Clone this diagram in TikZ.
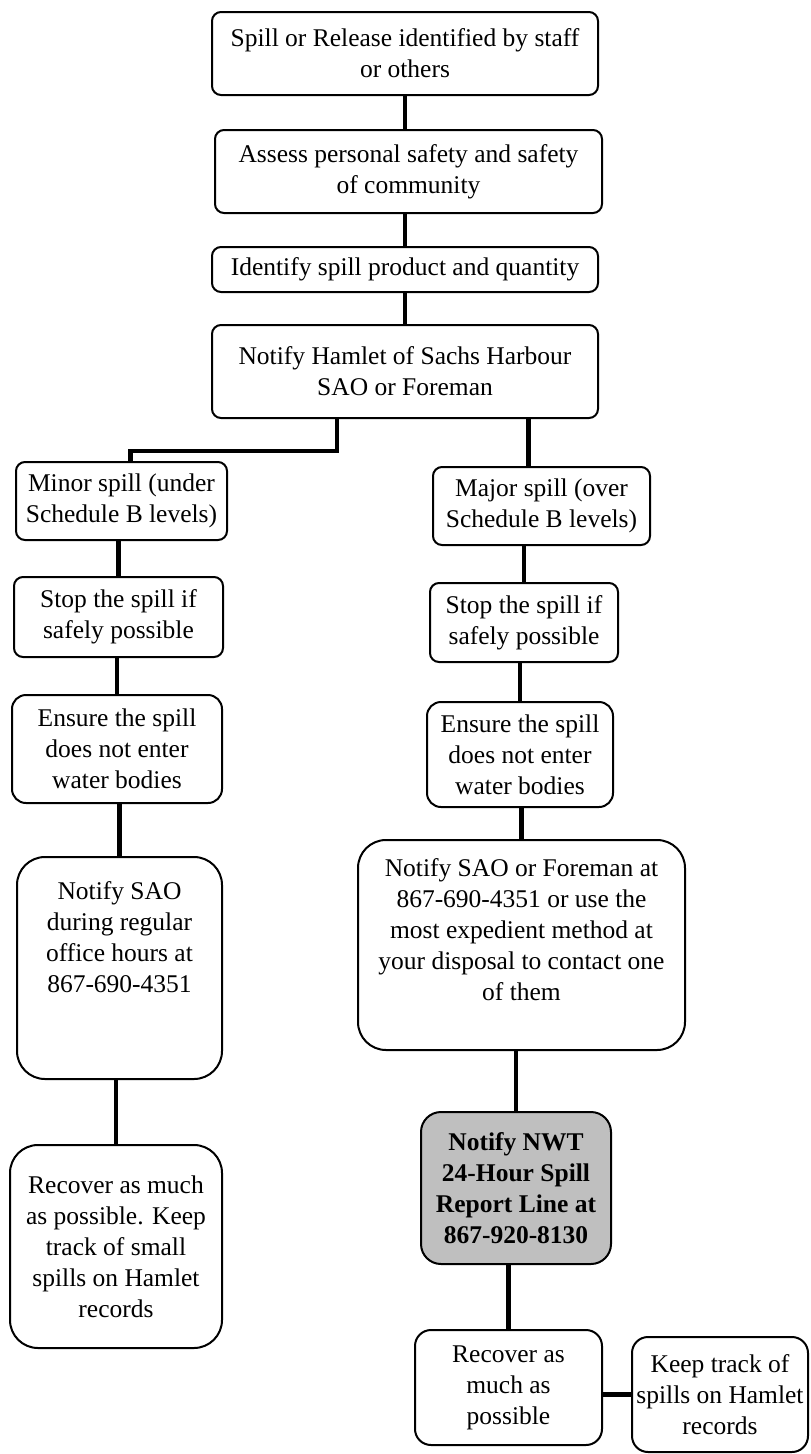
\documentclass[tikz,border=0pt]{standalone}
\usepackage{fontspec}
\setmainfont{Liberation Serif}
\begin{document}
\begin{tikzpicture}[x=1pt, y=-1pt, font=\fontsize{25.5}{31}\selectfont,
	box/.style={draw, line width=2pt, rounded corners=9pt, align=center, inner sep=3pt},
	link/.style={line width=4.5pt}]
	\useasboundingbox[fill=white] (0,0) rectangle (811,1454);
	\node[box, minimum width=386pt, minimum height=83pt] (spill) at (405,53.5) {Spill or Release identified by staff\\or others};
	\node[box, minimum width=387pt, minimum height=83pt] (assess) at (408.5,171.5) {Assess personal safety and safety\\of community};
	\node[box, minimum width=386pt, minimum height=45pt] (ident) at (405,269.5) {Identify spill product and quantity};
	\node[box, minimum width=386pt, minimum height=93pt] (hamlet) at (405,371.5) {Notify Hamlet of Sachs Harbour\\SAO or Foreman};
	\node[box, minimum width=211pt, minimum height=78pt] (minor) at (121.5,501) {Minor spill (under\\Schedule B levels)};
	\node[box, minimum width=209pt, minimum height=80pt] (stopl) at (118.5,617) {Stop the spill if\\safely possible};
	\node[box, minimum width=210pt, minimum height=108pt, rounded corners=14pt] (ensurel) at (117,749) {Ensure the spill\\does not enter\\water bodies};
	\node[box, minimum width=205pt, minimum height=222pt, rounded corners=28pt] (notifyl) at (119.5,968) {Notify SAO\\during regular\\office hours at\\867-690-4351\\~\\~};
	\node[box, minimum width=212pt, minimum height=203pt, rounded corners=28pt] (recoverl) at (116,1246.5) {Recover as much\\as possible. Keep\\track of small\\spills on Hamlet\\records};
	\node[box, minimum width=217pt, minimum height=78pt] (major) at (541.5,506) {Major spill (over\\Schedule B levels)};
	\node[box, minimum width=188pt, minimum height=79pt] (stopr) at (524,622.5) {Stop the spill if\\safely possible};
	\node[box, minimum width=186pt, minimum height=105pt, rounded corners=14pt] (ensurer) at (520,754.5) {Ensure the spill\\does not enter\\water bodies};
	\node[box, minimum width=327pt, minimum height=210pt, rounded corners=28pt] (notifyr) at (521.5,945) {Notify SAO or Foreman at\\867-690-4351 or use the\\most expedient method at\\your disposal to contact one\\of them\\~};
	\node[box, fill=black!25, font=\fontsize{25.5}{31}\selectfont\bfseries, minimum width=190pt, minimum height=152pt, rounded corners=20pt] (nwt) at (516,1188) {Notify NWT\\24-Hour Spill\\Report Line at\\867-920-8130};
	\node[box, minimum width=187pt, minimum height=115pt, rounded corners=16pt] (recoverr) at (508.5,1387.5) {Recover as\\much as\\possible};
	\node[box, minimum width=176pt, minimum height=115pt, rounded corners=16pt] (keep) at (720,1394.5) {Keep track of\\spills on Hamlet\\records};
	\draw[link] (spill.south) -- (spill.south |- assess.north);
	\draw[link] (ident.north) -- (ident.north |- assess.south);
	\draw[link] (hamlet.north) -- (hamlet.north |- ident.south);
	\draw[link] ([xshift=-68pt]hamlet.south) |- ([xshift=9pt,yshift=10pt]minor.north) -- ([xshift=9pt]minor.north);
	\draw[link] ([xshift=-13pt]major.north) -- ([xshift=-13pt]major.north |- hamlet.south);
	\draw[link] (stopl.north) -- (stopl.north |- minor.south);
	\draw[link] (ensurel.north) -- (ensurel.north |- stopl.south);
	\draw[link] (notifyl.north) -- (notifyl.north |- ensurel.south);
	\draw[link] (recoverl.north) -- (recoverl.north |- notifyl.south);
	\draw[link] (stopr.north) -- (stopr.north |- major.south);
	\draw[link] (ensurer.north) -- (ensurer.north |- stopr.south);
	\draw[link] (notifyr.north) -- (notifyr.north |- ensurer.south);
	\draw[link] (nwt.north) -- (nwt.north |- notifyr.south);
	\draw[link] (recoverr.north) -- (recoverr.north |- nwt.south);
	\draw[link] (keep.west) -- (keep.west -| recoverr.east);
\end{tikzpicture}
\end{document}
